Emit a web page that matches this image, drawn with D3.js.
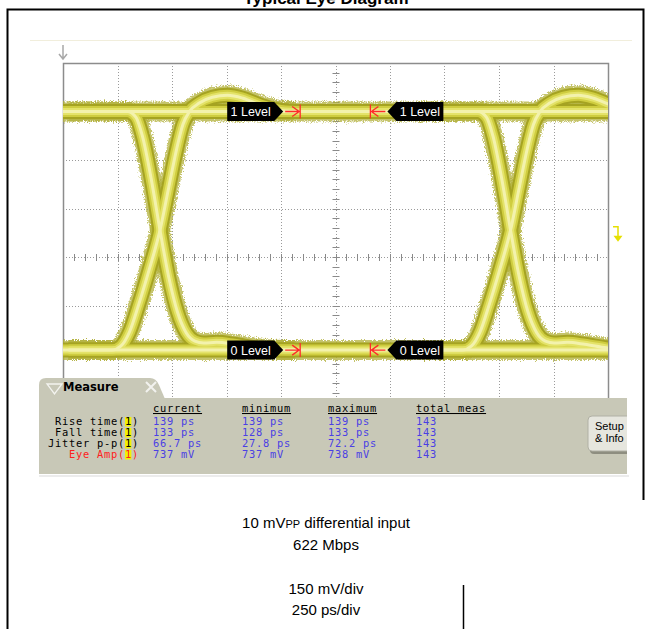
<!DOCTYPE html>
<html>
<head>
<meta charset="utf-8">
<script src="https://cdn.jsdelivr.net/npm/d3@7"></script>
<style>
body { margin: 0; background: #fff; }
svg { display: block; font-family: "Liberation Sans", Arial, sans-serif; }
</style>
</head>
<body>
<div id="chart"></div>
<script>
var width = 649;
var height = 629;

// scope settings: 250 ps/div horizontally, 150 mV/div vertically
var timeTicks = d3.range(0, 2501, 250);
var voltTicks = d3.range(-600, 601, 150);
var crossings = [445, 2053];
var highLevel = 450;
var lowLevel = -288;
var eyeWindow = [1088, 1410];
var channelMarker = 78;

// edge shapes, [ps from crossing, mV]
var risingEdge = [
  [-420, -288], [-220, -288], [-180, -276], [-140, -232], [-100, -152],
  [-50, -40], [0, 83], [40, 215], [75, 330], [105, 410], [135, 450],
  [180, 476], [240, 494], [310, 500], [380, 491], [460, 470], [540, 455], [620, 450]
];
var fallingEdge = [
  [-420, 450], [-150, 450], [-110, 432], [-80, 372], [-40, 240], [0, 83],
  [40, -62], [80, -170], [120, -234], [160, -260], [200, -266], [260, -264],
  [340, -270], [440, -281], [540, -287], [620, -288]
];

var measHeaders = ['current', 'minimum', 'maximum', 'total meas'];
var measNames = ['Rise time', 'Fall time', 'Jitter p-p', 'Eye Amp'];
var measCurrent = ['139 ps', '133 ps', '66.7 ps', '737 mV'];
var measMinimum = ['139 ps', '128 ps', '27.8 ps', '737 mV'];
var measMaximum = ['139 ps', '133 ps', '72.2 ps', '738 mV'];
var measTotal = ['143', '143', '143', '143'];

var svg = d3.select('#chart')
  .append('svg')
  .attr('width', width)
  .attr('height', height);

var x = d3.scaleLinear().domain([0, 2500]).range([63, 608]);
var y = d3.scaleLinear().domain([-600, 600]).range([451, 63]);

var defs = svg.append('defs');
defs.append('clipPath').attr('id', 'screen')
  .append('rect')
  .attr('x', x(0)).attr('y', y(600))
  .attr('width', x(2500) - x(0)).attr('height', y(-600) - y(600));
defs.append('clipPath').attr('id', 'panelClip')
  .append('rect').attr('x', 39).attr('y', 370).attr('width', 588).attr('height', 110);

var rough = defs.append('filter').attr('id', 'rough')
  .attr('x', '-5%').attr('y', '-5%').attr('width', '110%').attr('height', '110%');
rough.append('feTurbulence')
  .attr('type', 'fractalNoise').attr('baseFrequency', 0.9)
  .attr('numOctaves', 2).attr('seed', 3).attr('result', 'noise');
rough.append('feDisplacementMap')
  .attr('in', 'SourceGraphic').attr('in2', 'noise').attr('scale', 7)
  .attr('xChannelSelector', 'R').attr('yChannelSelector', 'G');

// title (cut at the top of the page) and frame
svg.append('text')
  .attr('x', 326).attr('y', 4)
  .attr('text-anchor', 'middle')
  .style('font-size', '17px').style('font-weight', 'bold')
  .text('Typical Eye Diagram');

svg.append('path')
  .attr('d', 'M7.5,629 V9.5 H643.5 V500')
  .style('fill', 'none').style('stroke', '#000').style('stroke-width', 2);
svg.append('line')
  .attr('x1', 463.5).attr('x2', 463.5).attr('y1', 585).attr('y2', 629)
  .style('stroke', '#000').style('stroke-width', 1.5);

svg.append('line')
  .attr('x1', 30).attr('x2', 632).attr('y1', 40.5).attr('y2', 40.5)
  .style('stroke', '#f1eedc');

// graticule
var grid = svg.append('g');
grid.selectAll('.vgrid')
  .data(timeTicks.slice(1, -1))
  .enter().append('line')
  .attr('x1', function(d) { return Math.round(x(d)) + 0.5; })
  .attr('x2', function(d) { return Math.round(x(d)) + 0.5; })
  .attr('y1', y(600)).attr('y2', y(-600))
  .style('stroke', '#9a9a9a').style('stroke-dasharray', '1,2');
grid.selectAll('.hgrid')
  .data(voltTicks.slice(1, -1))
  .enter().append('line')
  .attr('y1', function(d) { return Math.round(y(d)) + 0.5; })
  .attr('y2', function(d) { return Math.round(y(d)) + 0.5; })
  .attr('x1', x(0)).attr('x2', x(2500))
  .style('stroke', '#9a9a9a').style('stroke-dasharray', '1,2');

grid.selectAll('.vtick')
  .data(d3.range(-600, 601, 30))
  .enter().append('line')
  .attr('x1', x(1250) - 3).attr('x2', x(1250) + 4)
  .attr('y1', function(d) { return Math.round(y(d)) + 0.5; })
  .attr('y2', function(d) { return Math.round(y(d)) + 0.5; })
  .style('stroke', '#8a8a8a');
grid.selectAll('.htick')
  .data(d3.range(0, 2501, 50))
  .enter().append('line')
  .attr('y1', y(0) - 3).attr('y2', y(0) + 4)
  .attr('x1', function(d) { return Math.round(x(d)) + 0.5; })
  .attr('x2', function(d) { return Math.round(x(d)) + 0.5; })
  .style('stroke', '#8a8a8a');

grid.append('rect')
  .attr('x', x(0) + 0.5).attr('y', y(600) + 0.5)
  .attr('width', x(2500) - x(0)).attr('height', y(-600) - y(600))
  .style('fill', 'none').style('stroke', '#8c8c8c').style('stroke-width', 1.5);

// trigger arrow and channel marker
svg.append('path')
  .attr('d', 'M' + x(0) + ',45 V58 M' + (x(0) - 4) + ',54 L' + x(0) + ',59 L' + (x(0) + 4) + ',54')
  .style('fill', 'none').style('stroke', '#a8a8a8').style('stroke-width', 1.5);
var cm = y(channelMarker);
svg.append('path')
  .attr('d', 'M613,' + (cm - 5) + ' H618 V' + (cm + 5))
  .style('fill', 'none').style('stroke', '#e6e000').style('stroke-width', 1.5);
svg.append('path')
  .attr('d', 'M613.5,' + (cm + 4) + ' L622.5,' + (cm + 4) + ' L618,' + (cm + 10) + ' Z')
  .style('fill', '#e6e000');

// eye traces
var line = d3.line()
  .x(function(d) { return x(d[0]); })
  .y(function(d) { return y(d[1]); })
  .curve(d3.curveMonotoneX);

var traces = [
  [[-100, highLevel], [2600, highLevel]],
  [[-100, lowLevel], [2600, lowLevel]]
];
crossings.forEach(function(c) {
  traces.push(risingEdge.map(function(p) { return [c + p[0], p[1]]; }));
  traces.push(fallingEdge.map(function(p) { return [c + p[0], p[1]]; }));
});

var layers = [
  { w: 20, c: '#b2b03a', o: 0.75, f: true },
  { w: 15, c: '#a5a322', o: 1 },
  { w: 11, c: '#cfcd40', o: 1 },
  { w: 7, c: '#e4e36a', o: 1 },
  { w: 3, c: '#f3f2ad', o: 1 }
];
var traceG = svg.append('g').attr('clip-path', 'url(#screen)');
layers.forEach(function(l) {
  var g = traceG.append('g');
  if (l.f) g.attr('filter', 'url(#rough)');
  g.selectAll('path')
    .data(traces)
    .enter().append('path')
    .attr('d', line)
    .style('fill', 'none')
    .style('stroke', l.c)
    .style('stroke-opacity', l.o)
    .style('stroke-width', l.w)
    .style('stroke-linecap', 'butt');
});

// level labels and eye window markers
function levelLabel(level, text, side) {
  var yc = y(level);
  var bar = x(eyeWindow[side === 'left' ? 0 : 1]);
  var s = side === 'left' ? -1 : 1;
  var tip = bar + s * 17;
  var back = tip + s * 56;
  var neck = tip + s * 9;
  svg.append('path')
    .attr('d', 'M' + tip + ',' + yc + ' L' + neck + ',' + (yc - 9.5) + ' L' + back + ',' + (yc - 9.5) +
      ' L' + back + ',' + (yc + 9.5) + ' L' + neck + ',' + (yc + 9.5) + ' Z')
    .style('fill', '#000');
  svg.append('text')
    .attr('x', (neck + back) / 2).attr('y', yc + 4.5)
    .attr('text-anchor', 'middle')
    .style('fill', '#fff').style('font-size', '12.5px')
    .text(text);
  svg.append('path')
    .attr('d', 'M' + bar + ',' + (yc - 7) + ' V' + (yc + 7) +
      ' M' + bar + ',' + yc + ' H' + (bar + s * 15) +
      ' M' + (bar + s * 8) + ',' + (yc - 5) + ' L' + (bar + s * 1) + ',' + yc + ' L' + (bar + s * 8) + ',' + (yc + 5))
    .style('fill', 'none').style('stroke', '#ff2a2a').style('stroke-width', 1.3);
}
levelLabel(highLevel, '1 Level', 'left');
levelLabel(highLevel, '1 Level', 'right');
levelLabel(lowLevel, '0 Level', 'left');
levelLabel(lowLevel, '0 Level', 'right');

// measurement panel
var panel = svg.append('g');
var panelFill = '#c8c8b7';
panel.append('rect')
  .attr('x', 39).attr('y', 475).attr('width', 590).attr('height', 2)
  .style('fill', '#ececec');
panel.append('path')
  .attr('d', 'M39,399 V385 Q39,378 46,378 H150 Q156,378 159,385 L165,399 Z')
  .style('fill', panelFill);
panel.append('rect')
  .attr('x', 39).attr('y', 398).attr('width', 588).attr('height', 76)
  .style('fill', panelFill);
panel.append('path')
  .attr('d', 'M47,384 L62,384 L54.5,394 Z')
  .style('fill', 'none').style('stroke', '#f4f4f0').style('stroke-width', 1.3);
panel.append('text')
  .attr('x', 63).attr('y', 391)
  .style('font-family', '"DejaVu Sans", sans-serif')
  .style('font-size', '11.5px').style('font-weight', 'bold')
  .text('Measure');
panel.append('path')
  .attr('d', 'M146,382 L156,392 M156,382 L146,392')
  .style('stroke', '#f2f2ee').style('stroke-width', 2);

var mono = '"DejaVu Sans Mono", monospace';
var monoSize = '10.4px';
var colX = [153, 242, 328, 416];
var headerY = 412;
var rowY = measNames.map(function(d, i) { return 425 + i * 11; });

function monoText(sel) {
  return sel.style('font-family', mono)
    .style('font-size', monoSize)
    .style('letter-spacing', '0.75px');
}

monoText(panel.selectAll('.hdr')
  .data(measHeaders)
  .enter().append('text')
  .attr('x', function(d, i) { return colX[i]; })
  .attr('y', headerY)
  .style('text-decoration', 'underline')
  .text(function(d) { return d; }));

panel.selectAll('.hl')
  .data(measNames)
  .enter().append('rect')
  .attr('x', 125).attr('y', function(d, i) { return rowY[i] - 8; })
  .attr('width', 6.4).attr('height', 9.5)
  .style('fill', '#f2f200');

monoText(panel.selectAll('.name')
  .data(measNames)
  .enter().append('text')
  .attr('x', 139).attr('y', function(d, i) { return rowY[i]; })
  .attr('text-anchor', 'end')
  .style('fill', function(d, i) { return i === 3 ? '#ff2020' : '#000'; })
  .text(function(d) { return d + '(1)'; }));

var columns = [measCurrent, measMinimum, measMaximum, measTotal];
columns.forEach(function(col, c) {
  monoText(panel.selectAll('.val' + c)
    .data(col)
    .enter().append('text')
    .attr('x', colX[c]).attr('y', function(d, i) { return rowY[i]; })
    .style('fill', '#4a3fe4')
    .text(function(d) { return d; }));
});

var btn = panel.append('g').attr('clip-path', 'url(#panelClip)');
btn.append('rect')
  .attr('x', 590).attr('y', 418).attr('width', 50).attr('height', 36).attr('rx', 4)
  .style('fill', '#8e8e80');
btn.append('rect')
  .attr('x', 588).attr('y', 416).attr('width', 50).attr('height', 35).attr('rx', 4)
  .style('fill', '#e6e6de').style('stroke', '#b0b0a4');
btn.append('text').attr('x', 595).attr('y', 430)
  .style('font-size', '11px').text('Setup');
btn.append('text').attr('x', 595).attr('y', 442)
  .style('font-size', '11px').text('& Info');

// caption
var cap = svg.append('g').attr('text-anchor', 'middle').style('font-size', '15px');
var l1 = cap.append('text').attr('x', 326).attr('y', 528);
l1.append('tspan').text('10 mV');
l1.append('tspan').style('font-size', '11px').text('PP');
l1.append('tspan').text(' differential input');
cap.append('text').attr('x', 326).attr('y', 550).text('622 Mbps');
cap.append('text').attr('x', 326).attr('y', 594).text('150 mV/div');
cap.append('text').attr('x', 326).attr('y', 615).text('250 ps/div');
</script>
</body>
</html>
